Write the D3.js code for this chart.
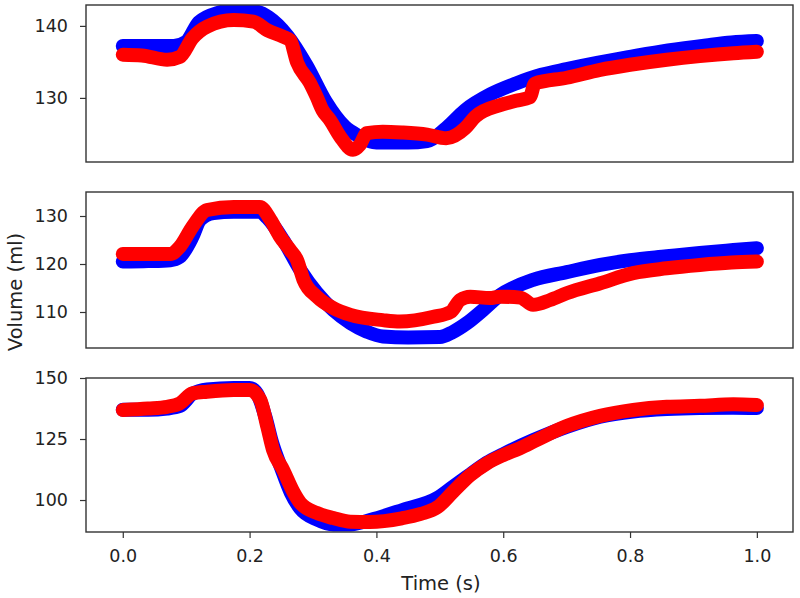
<!DOCTYPE html>
<html>
<head>
<meta charset="utf-8">
<script src="https://cdn.jsdelivr.net/npm/d3@7"></script>
<style>
  html, body { margin: 0; padding: 0; background: #fff; }
  svg { display: block; font-family: "DejaVu Sans", sans-serif; }
</style>
</head>
<body>
<svg id="chart" width="800" height="598"></svg>
<script>
// ---------------- data ----------------
const xTicks = [0.0, 0.2, 0.4, 0.6, 0.8, 1.0];
const yTicks1 = [130, 140];
const yTicks2 = [110, 120, 130];
const yTicks3 = [100, 125, 150];

const p1BlueT = [0, 0.04, 0.08, 0.10, 0.12, 0.15, 0.18, 0.21, 0.23, 0.26, 0.29, 0.32, 0.35, 0.37, 0.40, 0.45, 0.48, 0.51, 0.54, 0.58, 0.62, 0.66, 0.70, 0.75, 0.80, 0.86, 0.92, 0.96, 1.0];
const p1BlueV = [137.2, 137.2, 137.2, 137.8, 140.5, 141.8, 142.2, 142.0, 141.2, 138.6, 134.5, 129.5, 126.0, 124.8, 123.8, 123.8, 124.0, 125.8, 128.3, 130.5, 132.0, 133.2, 134.0, 134.9, 135.7, 136.6, 137.3, 137.7, 137.9];
const p1RedT = [0, 0.03, 0.07, 0.09, 0.11, 0.133, 0.175, 0.206, 0.228, 0.253, 0.264, 0.275, 0.295, 0.306, 0.315, 0.327, 0.343, 0.363, 0.374, 0.385, 0.41, 0.44, 0.48, 0.51, 0.54, 0.556, 0.595, 0.62, 0.642, 0.65, 0.70, 0.753, 0.80, 0.858, 0.91, 0.963, 1.0];
const p1RedV = [136.0, 135.9, 135.3, 135.7, 138.3, 139.9, 140.8, 140.6, 139.4, 138.5, 138.0, 134.9, 132.1, 130.1, 128.3, 126.9, 124.6, 122.8, 123.5, 125.1, 125.3, 125.2, 124.9, 124.4, 125.8, 127.4, 129.0, 129.6, 130.1, 132.0, 132.8, 133.9, 134.6, 135.3, 135.8, 136.2, 136.4];

const p2BlueT = [0, 0.04, 0.075, 0.09, 0.11, 0.122, 0.143, 0.175, 0.216, 0.228, 0.253, 0.28, 0.306, 0.332, 0.359, 0.385, 0.41, 0.45, 0.50, 0.52, 0.543, 0.568, 0.595, 0.647, 0.70, 0.753, 0.80, 0.858, 0.91, 0.963, 1.0];
const p2BlueV = [120.5, 120.6, 120.8, 121.5, 125.7, 129.2, 130.6, 130.9, 130.9, 129.6, 125.0, 118.75, 114.0, 110.4, 107.7, 105.9, 104.9, 104.7, 104.8, 105.8, 107.7, 110.4, 113.5, 116.7, 118.3, 119.8, 120.8, 121.6, 122.3, 122.9, 123.3];
const p2RedT = [0, 0.04, 0.075, 0.09, 0.11, 0.133, 0.175, 0.216, 0.233, 0.248, 0.264, 0.275, 0.285, 0.306, 0.332, 0.359, 0.41, 0.437, 0.49, 0.517, 0.532, 0.548, 0.579, 0.595, 0.627, 0.647, 0.674, 0.70, 0.753, 0.805, 0.858, 0.91, 0.96, 1.0];
const p2RedV = [122.1, 122.1, 122.1, 123.6, 127.8, 131.25, 131.9, 131.9, 129.2, 125.7, 122.9, 120.8, 116.7, 113.2, 110.8, 109.4, 108.3, 108.0, 109.0, 110.0, 112.5, 113.2, 112.9, 113.2, 113.0, 111.5, 112.5, 113.9, 116.0, 118.1, 119.1, 119.8, 120.3, 120.5];

const p3BlueT = [0, 0.04, 0.07, 0.09, 0.11, 0.133, 0.175, 0.20, 0.212, 0.225, 0.235, 0.25, 0.265, 0.28, 0.306, 0.332, 0.359, 0.39, 0.442, 0.496, 0.521, 0.548, 0.574, 0.60, 0.647, 0.70, 0.753, 0.805, 0.858, 0.91, 0.963, 1.0];
const p3BlueV = [137.0, 137.0, 137.5, 138.5, 143.5, 145.3, 145.9, 145.9, 143.5, 134.0, 124.0, 113.0, 103.0, 96.5, 92.0, 90.0, 90.0, 91.8, 96.0, 100.8, 105.5, 110.5, 115.3, 118.8, 124.5, 130.0, 134.2, 136.3, 137.3, 137.7, 137.8, 137.7];
const p3RedT = [0, 0.04, 0.07, 0.09, 0.11, 0.133, 0.175, 0.20, 0.217, 0.228, 0.237, 0.253, 0.27, 0.28, 0.306, 0.332, 0.359, 0.39, 0.44, 0.47, 0.496, 0.521, 0.548, 0.574, 0.60, 0.626, 0.653, 0.70, 0.753, 0.805, 0.858, 0.91, 0.963, 1.0];
const p3RedV = [136.9, 137.5, 138.2, 139.6, 143.7, 144.4, 145.1, 145.1, 141.0, 130.0, 120.5, 112.3, 102.9, 98.8, 94.7, 92.6, 91.1, 91.0, 92.5, 94.3, 97.0, 103.4, 110.2, 115.0, 118.4, 121.2, 124.6, 130.3, 134.5, 136.9, 138.2, 138.6, 139.2, 138.9];

const xLabel = "Time (s)";
const yLabel = "Volume (ml)";

// ---------------- layout ----------------
const svg = d3.select("#chart");
const left = 86, right = 793;
const panels = [
  { top: 5,   bottom: 162, domain: [121.1, 142.9], ticks: yTicks1, blue: [p1BlueT, p1BlueV], red: [p1RedT, p1RedV] },
  { top: 192, bottom: 348, domain: [102.5, 135.0], ticks: yTicks2, blue: [p2BlueT, p2BlueV], red: [p2RedT, p2RedV] },
  { top: 378, bottom: 532, domain: [86.9, 150.0],  ticks: yTicks3, blue: [p3BlueT, p3BlueV], red: [p3RedT, p3RedV] }
];

const x = d3.scaleLinear().domain([-0.058, 1.057]).range([left, right]);
const textColor = "#222";
const frameColor = "#333";
const tickFont = "17.5px";
const labelFont = "19.5px";

panels.forEach((p, i) => {
  const y = d3.scaleLinear().domain(p.domain).range([p.bottom, p.top]);
  const clipId = "clip" + i;
  svg.append("clipPath").attr("id", clipId)
    .append("rect").attr("x", left).attr("y", p.top)
    .attr("width", right - left).attr("height", p.bottom - p.top);

  const g = svg.append("g").attr("clip-path", `url(#${clipId})`);
  const line = d3.line().x(d => x(d[0])).y(d => y(d[1])).curve(d3.curveMonotoneX);

  [["blue", "#0000ff"], ["red", "#ff0000"]].forEach(([key, col]) => {
    const [ts, vs] = p[key];
    const pts = ts.map((t, k) => [t, vs[k]]);
    g.append("path").datum(pts)
      .attr("d", line)
      .attr("fill", "none")
      .attr("stroke", col)
      .attr("stroke-width", 14)
      .attr("stroke-linecap", "round")
      .attr("stroke-linejoin", "round");
  });

  // y axis
  const ya = svg.append("g").attr("transform", `translate(${left},0)`)
    .call(d3.axisLeft(y).tickValues(p.ticks).tickSize(6).tickPadding(12).tickFormat(d3.format("d")));
  ya.select(".domain").remove();
  ya.selectAll("line").attr("stroke", frameColor).attr("stroke-width", 1.2);
  ya.selectAll("text").attr("fill", textColor).style("font-size", tickFont).style("font-family", "DejaVu Sans, sans-serif");

  if (i === panels.length - 1) {
    const xa = svg.append("g").attr("transform", `translate(0,${p.bottom})`)
      .call(d3.axisBottom(x).tickValues(xTicks).tickSize(6).tickPadding(12).tickFormat(d3.format(".1f")));
    xa.select(".domain").remove();
    xa.selectAll("line").attr("stroke", frameColor).attr("stroke-width", 1.2);
    xa.selectAll("text").attr("fill", textColor).style("font-size", tickFont).style("font-family", "DejaVu Sans, sans-serif");
  }

  // frame
  svg.append("rect").attr("x", left).attr("y", p.top)
    .attr("width", right - left).attr("height", p.bottom - p.top)
    .attr("fill", "none").attr("stroke", frameColor).attr("stroke-width", 1.4);
});

svg.append("text")
  .attr("x", 441).attr("y", 590)
  .attr("text-anchor", "middle").attr("fill", textColor)
  .style("font-size", labelFont).text(xLabel);

svg.append("text")
  .attr("transform", "translate(22,292) rotate(-90)")
  .attr("text-anchor", "middle").attr("fill", textColor)
  .style("font-size", labelFont).text(yLabel);
</script>
</body>
</html>
